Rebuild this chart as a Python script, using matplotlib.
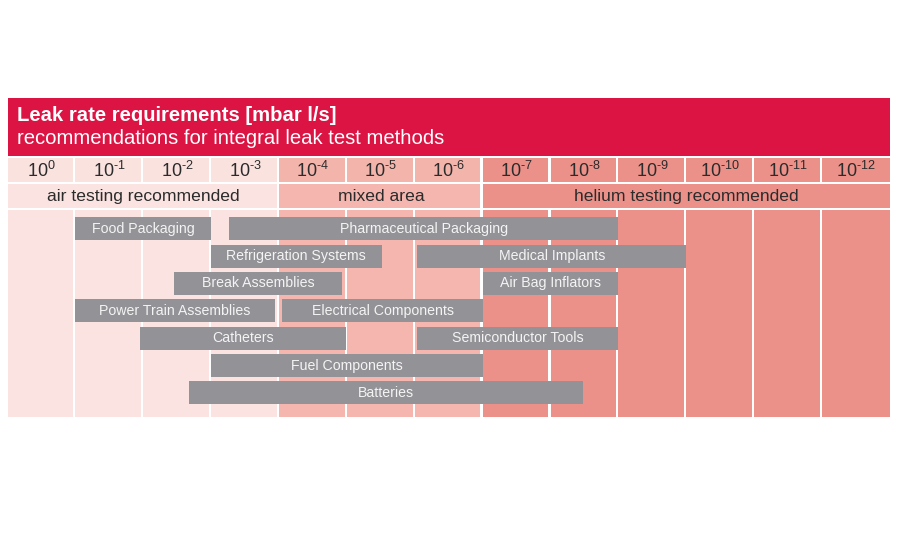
import matplotlib.pyplot as plt
from matplotlib.patches import Rectangle

plt.rcParams['font.family'] = ['Liberation Sans', 'DejaVu Sans']
plt.rcParams['mathtext.fontset'] = 'custom'
plt.rcParams['mathtext.rm'] = 'Liberation Sans'
plt.rcParams['mathtext.it'] = 'Liberation Sans'

# leak rate columns, 10^0 ... 10^-12 mbar l/s
exponents = [0, -1, -2, -3, -4, -5, -6, -7, -8, -9, -10, -11, -12]
zones = ["air testing recommended", "mixed area", "helium testing recommended"]
zone_cols = [(0, 4), (4, 7), (7, 13)]

# applications: start / end in column units (0 = 10^0), row index
apps = ["Food Packaging", "Pharmaceutical Packaging",
        "Refrigeration Systems", "Medical Implants",
        "Break Assemblies", "Air Bag Inflators",
        "Power Train Assemblies", "Electrical Components",
        "Catheters", "Semiconductor Tools",
        "Fuel Components", "Batteries"]
app_start = [1.0, 3.26, 3.0, 6.04, 2.45, 7.0, 1.0, 4.05, 1.95, 6.03, 3.0, 2.68]
app_end = [3.0, 9.0, 5.51, 10.0, 4.93, 9.0, 3.94, 7.0, 4.99, 9.0, 7.0, 8.48]
app_row = [0, 0, 1, 1, 2, 2, 3, 3, 4, 4, 5, 6]

title = "Leak rate requirements [mbar l/s]"
subtitle = "recommendations for integral leak test methods"

red = "#DC1443"
zone_head = ["#FAE2DF", "#F3B4AC", "#EC9189"]
zone_body = ["#FAE3E0", "#F4B6AE", "#EC9189"]
bar_gray = "#929297"
txt = "#2b2b2b"

# pixel layout helpers (figure is 900x550, y rows of 27.38 px)
x0, cw = 7.5, 67.88
r0, rh = 228.7, 27.38
def py(p):
    return (p - r0) / rh

fig = plt.figure(figsize=(9, 5.5), dpi=100)
ax = fig.add_axes([0, 0, 1, 1])
ax.set_xlim(-x0 / cw, (900 - x0) / cw)
ax.set_ylim(py(550), py(0))
ax.axis('off')

gap = 2.2 / cw

# red title band
ax.add_patch(Rectangle((0, py(98.3)), 13, py(155.7) - py(98.3), color=red, lw=0))
ax.text(0.14, py(115), title, color="white", fontsize=14.6, fontweight='bold', va='center')
ax.text(0.14, py(138.5), subtitle, color="white", fontsize=14.6, va='center')

def zone_of(i):
    for z, (a, b) in enumerate(zone_cols):
        if a <= i < b:
            return z

# column header row
h_top, h_bot = py(158.3), py(182.3)
for i, e in enumerate(exponents):
    w = 1 - gap if i < 12 else 1
    ax.bar(i, h_bot - h_top, width=w, bottom=h_top, align='edge',
           color=zone_head[zone_of(i)], lw=0)
    ax.text(i + 0.5, (h_top + h_bot) / 2 + 0.03, r'$10^{\text{%d}}$' % e, color=txt,
            fontsize=13, ha='center', va='center')

# zone row
c_top, c_bot = py(184.3), py(208.3)
for z, (a, b) in enumerate(zone_cols):
    w = (b - a) - (gap if b < 13 else 0)
    ax.bar(a, c_bot - c_top, width=w, bottom=c_top, align='edge',
           color=zone_body[z], lw=0)
    ax.text((a + b) / 2, (c_top + c_bot) / 2, zones[z], color=txt,
            fontsize=12.6, ha='center', va='center')

# body columns
b_top, b_bot = py(210.3), py(417)
for i in range(13):
    w = 1 - gap if i < 12 else 1
    ax.bar(i, b_bot - b_top, width=w, bottom=b_top, align='edge',
           color=zone_body[zone_of(i)], lw=0)

# application bars
widths = [e - s for s, e in zip(app_start, app_end)]
ax.barh(app_row, widths, left=app_start, height=0.84, color=bar_gray, lw=0)
for name, s, e, r in zip(apps, app_start, app_end, app_row):
    ax.text((s + e) / 2, r, name, color="#f4f4f4", fontsize=10.2,
            ha='center', va='center')

fig.savefig("out.png", dpi=100)
